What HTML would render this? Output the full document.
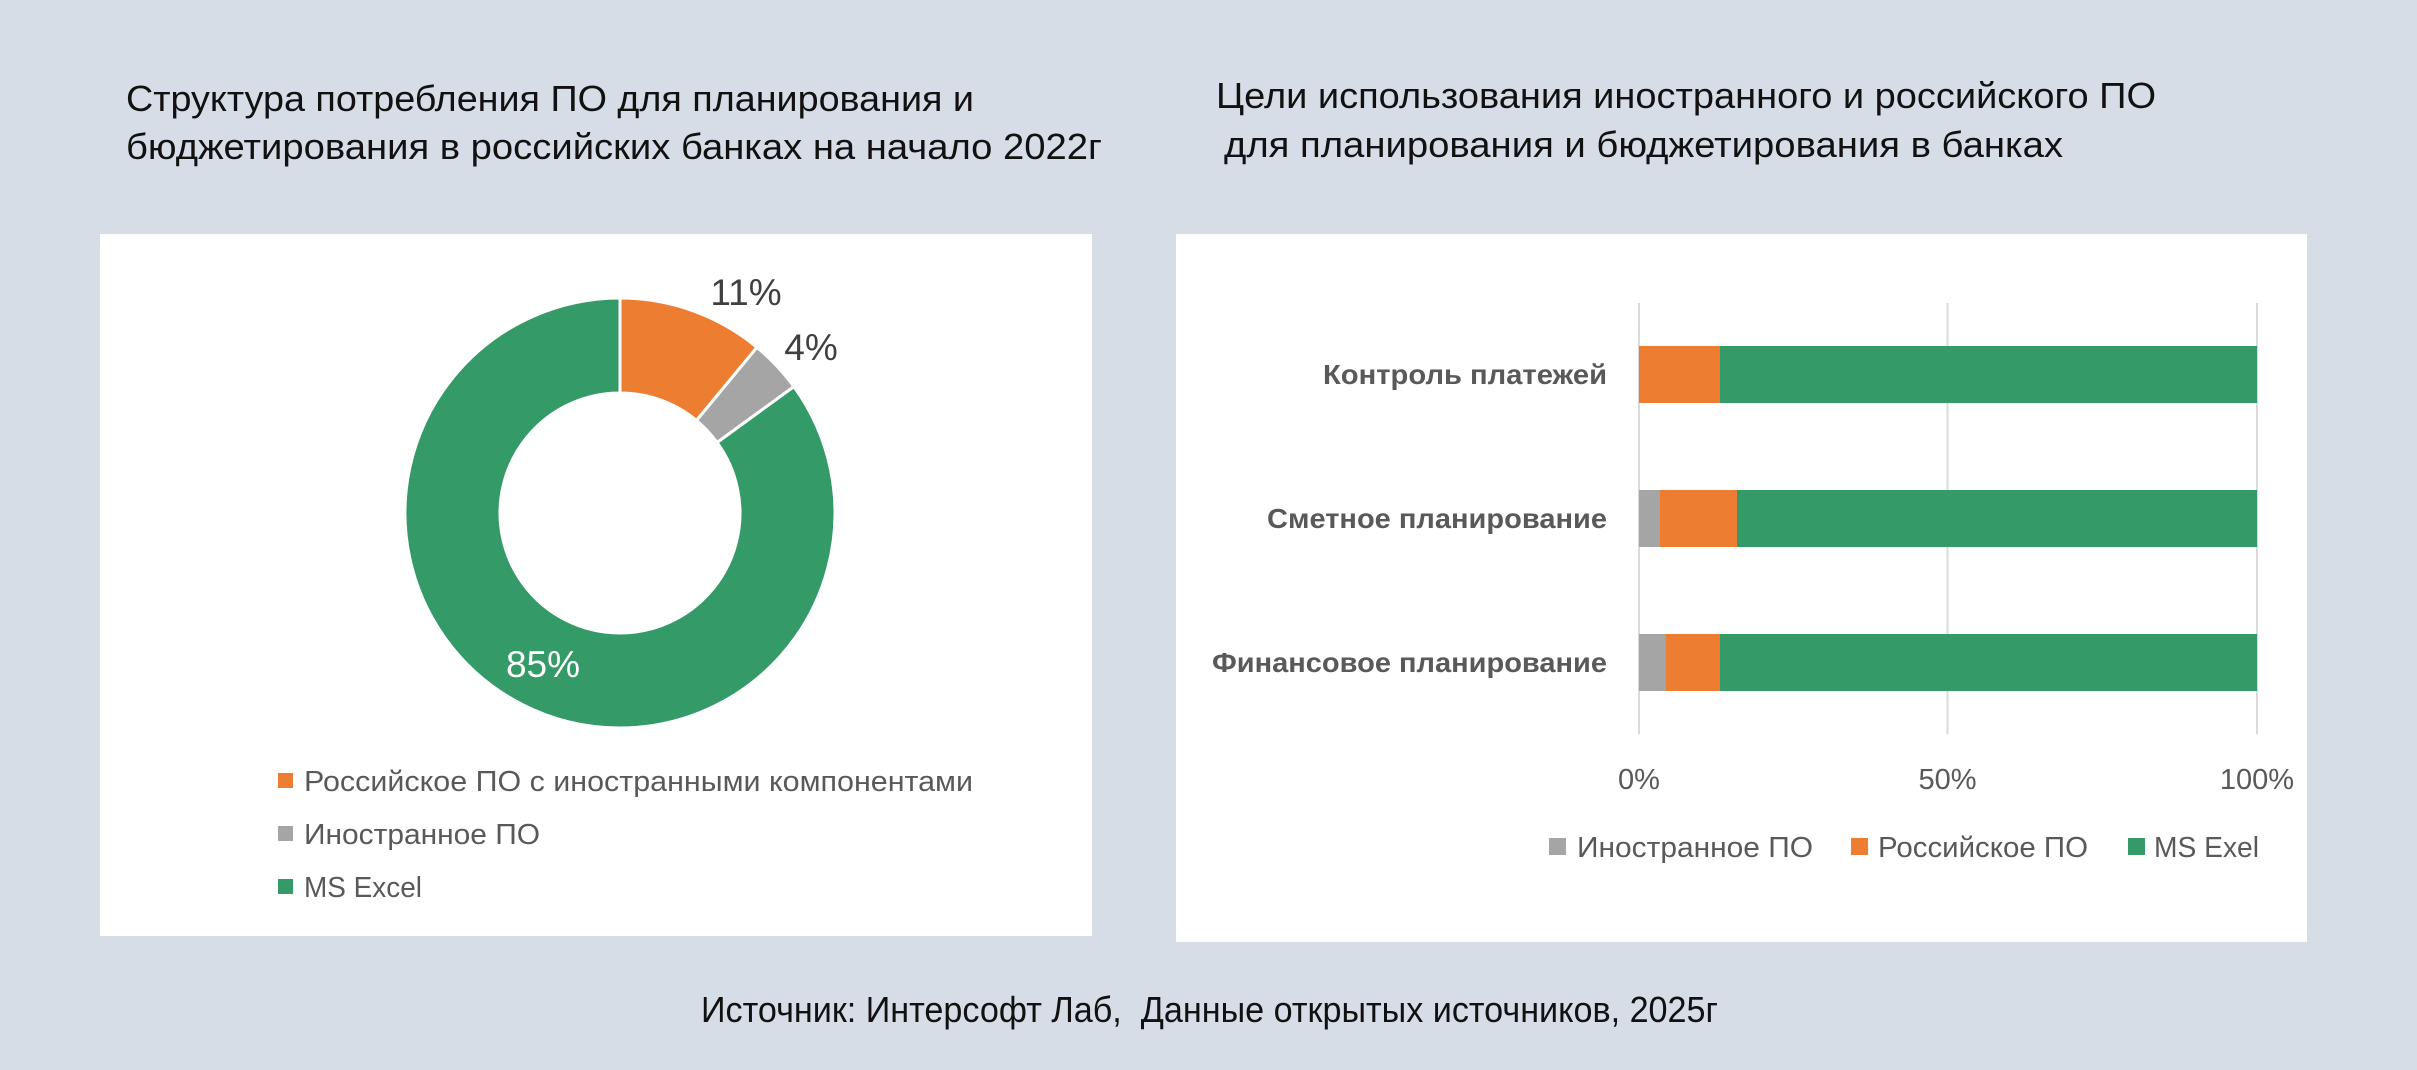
<!DOCTYPE html>
<html><head><meta charset="utf-8"><style>html,body{margin:0;padding:0;background:#d6dde6}svg{display:block}</style></head>
<body>
<svg width="2417" height="1070" viewBox="0 0 2417 1070" xmlns="http://www.w3.org/2000/svg" font-family="'Liberation Sans', 'Noto Sans CJK SC', sans-serif">
<rect width="2417" height="1070" fill="#d6dde6"/>
<g font-size="36" fill="#111">
<text x="126" y="111" textLength="848" lengthAdjust="spacingAndGlyphs">Структура потребления ПО для планирования и</text>
<text x="126" y="159" textLength="976" lengthAdjust="spacingAndGlyphs">бюджетирования в российских банках на начало 2022г</text>
<text x="1216" y="108" textLength="940" lengthAdjust="spacingAndGlyphs">Цели использования иностранного и российского ПО</text>
<text x="1224" y="157" textLength="839" lengthAdjust="spacingAndGlyphs">для планирования и бюджетирования в банках</text>
<text x="701" y="1022" textLength="1017" lengthAdjust="spacingAndGlyphs" xml:space="preserve">Источник: Интерсофт Лаб,  Данные открытых источников, 2025г</text>
</g>
<rect x="100" y="234" width="992" height="702" fill="#fff"/>
<rect x="1176" y="234" width="1131" height="708" fill="#fff"/>
<g stroke="#fff" stroke-width="3">
<path d="M620,298 A215,215 0 0 1 757,347.3 L696.5,420.5 A120,120 0 0 0 620,393 Z" fill="#ed7d31"/>
<path d="M757,347.3 A215,215 0 0 1 793.9,386.6 L717.1,442.5 A120,120 0 0 0 696.5,420.5 Z" fill="#a5a5a5"/>
<path d="M793.9,386.6 A215,215 0 1 1 620,298 L620,393 A120,120 0 1 0 717.1,442.5 Z" fill="#349a68"/>
</g>
<g font-size="37">
<text x="746" y="305" text-anchor="middle" fill="#404040">11%</text>
<text x="811" y="360" text-anchor="middle" fill="#404040">4%</text>
<text x="543" y="677" text-anchor="middle" fill="#fff">85%</text>
</g>
<g font-size="29" fill="#595959">
<rect x="278" y="773" width="15" height="15" fill="#ed7d31"/>
<text x="304" y="791" textLength="669" lengthAdjust="spacingAndGlyphs">Российское ПО с иностранными компонентами</text>
<rect x="278" y="826" width="15" height="15" fill="#a5a5a5"/>
<text x="304" y="844" textLength="236" lengthAdjust="spacingAndGlyphs">Иностранное ПО</text>
<rect x="278" y="879" width="15" height="15" fill="#349a68"/>
<text x="304" y="897" textLength="118" lengthAdjust="spacingAndGlyphs">MS Excel</text>
</g>
<g stroke="#d9d9d9" stroke-width="2">
<line x1="1639" y1="303" x2="1639" y2="734"/>
<line x1="1947.5" y1="303" x2="1947.5" y2="734"/>
<line x1="2257" y1="303" x2="2257" y2="734"/>
</g>
<rect x="1639" y="346" width="81" height="57" fill="#ed7d31"/>
<rect x="1720" y="346" width="537" height="57" fill="#349a68"/>
<rect x="1639" y="490" width="21" height="57" fill="#a5a5a5"/>
<rect x="1660" y="490" width="77" height="57" fill="#ed7d31"/>
<rect x="1737" y="490" width="520" height="57" fill="#349a68"/>
<rect x="1639" y="634" width="27" height="57" fill="#a5a5a5"/>
<rect x="1666" y="634" width="54" height="57" fill="#ed7d31"/>
<rect x="1720" y="634" width="537" height="57" fill="#349a68"/>
<g font-size="28" font-weight="bold" fill="#595959" text-anchor="end">
<text x="1607" y="384" textLength="284" lengthAdjust="spacingAndGlyphs">Контроль платежей</text>
<text x="1607" y="528" textLength="340" lengthAdjust="spacingAndGlyphs">Сметное планирование</text>
<text x="1607" y="672" textLength="395" lengthAdjust="spacingAndGlyphs">Финансовое планирование</text>
</g>
<g font-size="29" fill="#595959" text-anchor="middle">
<text x="1639" y="789">0%</text>
<text x="1947.5" y="789">50%</text>
<text x="2257" y="789">100%</text>
</g>
<g font-size="29" fill="#595959">
<rect x="1549" y="838" width="17" height="17" fill="#a5a5a5"/>
<text x="1577" y="857" textLength="236" lengthAdjust="spacingAndGlyphs">Иностранное ПО</text>
<rect x="1851" y="838" width="17" height="17" fill="#ed7d31"/>
<text x="1878" y="857" textLength="210" lengthAdjust="spacingAndGlyphs">Российское ПО</text>
<rect x="2128" y="838" width="17" height="17" fill="#349a68"/>
<text x="2154" y="857" textLength="105" lengthAdjust="spacingAndGlyphs">MS Exel</text>
</g>
</svg>
</body></html>
